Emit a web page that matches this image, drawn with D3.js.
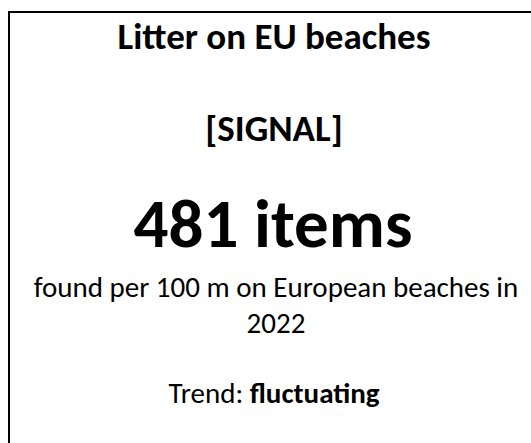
<!DOCTYPE html>
<html>
<head>
<meta charset="utf-8">
<script src="https://cdn.jsdelivr.net/npm/d3@7"></script>
<style>
  html, body { margin: 0; padding: 0; background: #fff; }
  text { font-family: Carlito, Calibri, Lato, sans-serif; fill: #000; }
</style>
</head>
<body>
<div id="root"></div>
<script>
const width = 531;
const height = 443;
const centerX = 274;

const title = 'Litter on EU beaches';
const label = '[SIGNAL]';
const value = 481;
const unit = 'items';
const descriptionLines = [ 'found per 100 m on European beaches in', '2022' ];
const trendLabel = 'Trend: ';
const trendValue = 'fluctuating';

const svg = d3.select('#root')
  .append('svg')
  .attr('width', width)
  .attr('height', height);

// box, its right and bottom edges run off the picture
svg.append('rect')
  .attr('x', 9)
  .attr('y', 12)
  .attr('width', 560)
  .attr('height', 480)
  .style('fill', 'none')
  .style('stroke', '#000')
  .style('stroke-width', '2px');

svg.append('text')
  .attr('x', centerX)
  .attr('y', 49)
  .attr('text-anchor', 'middle')
  .attr('font-size', '37px')
  .attr('font-weight', 'bold')
  .text(title);

svg.append('text')
  .attr('x', centerX)
  .attr('y', 141)
  .attr('text-anchor', 'middle')
  .attr('font-size', '37px')
  .attr('font-weight', 'bold')
  .text(label);

svg.append('text')
  .attr('x', centerX - 1)
  .attr('y', 247)
  .attr('text-anchor', 'middle')
  .attr('font-size', '69px')
  .attr('font-weight', 'bold')
  .text(`${ value } ${ unit }`);

svg.selectAll('.description')
  .data(descriptionLines)
  .enter()
  .append('text')
  .attr('class', 'description')
  .attr('x', centerX + 2)
  .attr('y', (_d, index) => 297 + (index * 36))
  .attr('text-anchor', 'middle')
  .attr('font-size', '29px')
  .text((d) => d);

const trend = svg.append('text')
  .attr('x', centerX)
  .attr('y', 403)
  .attr('text-anchor', 'middle')
  .attr('font-size', '29px');

trend.append('tspan').text(trendLabel);
trend.append('tspan').attr('font-weight', 'bold').text(trendValue);
</script>
</body>
</html>
